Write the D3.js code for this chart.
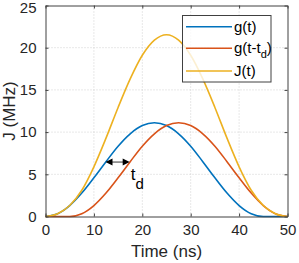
<!DOCTYPE html>
<html>
<head>
<meta charset="utf-8">
<script src="https://cdn.jsdelivr.net/npm/d3@7/dist/d3.min.js"></script>
<style>
  body { margin: 0; background: #fff; }
  svg { display: block; font-family: "Liberation Sans", Arial, sans-serif; }
</style>
</head>
<body>
<div id="chart"></div>
<script>
// time samples (ns)
var times = [0, 2.5, 5, 7.5, 10, 12.5, 15, 17.5, 20, 22.5, 25, 27.5, 30, 32.5, 35, 37.5, 40, 42.5, 45, 47.5, 50];
// g(t), MHz
var gVals = [0, 0.33, 1.30, 2.78, 4.59, 6.50, 8.33, 9.80, 10.77, 11.1, 10.77, 9.80, 8.33, 6.50, 4.59, 2.78, 1.30, 0.33, 0, 0, 0];
// g(t - td)
var gShiftVals = [0, 0, 0, 0.33, 1.30, 2.78, 4.59, 6.50, 8.33, 9.80, 10.77, 11.1, 10.77, 9.80, 8.33, 6.50, 4.59, 2.78, 1.30, 0.33, 0];
// J(t)
var jVals = [0, 0.33, 1.30, 3.11, 5.89, 9.28, 12.92, 16.30, 19.10, 20.90, 21.54, 20.90, 19.10, 16.30, 12.92, 9.28, 5.89, 3.11, 1.30, 0.33, 0];

var seriesNames = ['g(t)', 'g(t-t_d)', 'J(t)'];
var seriesColors = ['#0072BD', '#D95319', '#EDB120'];
var xTicks = [0, 10, 20, 30, 40, 50];
var yTicks = [0, 5, 10, 15, 20, 25];
// td arrow: from g(t) to g(t-td) at the same height
var tdArrow = [12.4, 17.4, 6.45];

(function(){
  'use strict';

  var width = 299, height = 263,
      margin = {top: 5.5, right: 11.5, bottom: 46.5, left: 45.5},
      w = width - margin.left - margin.right,
      h = height - margin.top - margin.bottom;

  var svg = d3.select('#chart').append('svg')
    .attr('width', width)
    .attr('height', height);

  var g = svg.append('g')
    .attr('transform', 'translate(' + margin.left + ',' + margin.top + ')');

  var x = d3.scaleLinear().domain([0, 50]).range([0, w]);
  var y = d3.scaleLinear().domain([0, 25]).range([h, 0]);

  //---- grid
  g.append('g').selectAll('line.gx')
    .data(xTicks.slice(1, -1)).enter()
    .append('line')
    .attr('x1', function(d){ return x(d); })
    .attr('x2', function(d){ return x(d); })
    .attr('y1', 0).attr('y2', h)
    .attr('stroke', '#d0d0d0').attr('stroke-dasharray', '1,2');
  g.append('g').selectAll('line.gy')
    .data(yTicks.slice(1, -1)).enter()
    .append('line')
    .attr('y1', function(d){ return y(d); })
    .attr('y2', function(d){ return y(d); })
    .attr('x1', 0).attr('x2', w)
    .attr('stroke', '#d0d0d0').attr('stroke-dasharray', '1,2');

  //---- curves
  var series = [gVals, gShiftVals, jVals];
  var line = d3.line()
    .x(function(d, i){ return x(times[i]); })
    .y(function(d){ return y(d); })
    .curve(d3.curveMonotoneX);

  g.selectAll('path.curve')
    .data(series).enter()
    .append('path')
    .attr('class', 'curve')
    .attr('fill', 'none')
    .attr('stroke', function(d, i){ return seriesColors[i]; })
    .attr('stroke-width', 1.6)
    .attr('d', line);

  //---- axes box with inward ticks
  var axisColor = '#404040';
  var xAxisB = d3.axisBottom(x).tickValues(xTicks).tickSizeInner(-3).tickSizeOuter(0).tickPadding(8);
  var xAxisT = d3.axisTop(x).tickValues(xTicks).tickSizeInner(-3).tickSizeOuter(0).tickFormat('');
  var yAxisL = d3.axisLeft(y).tickValues(yTicks).tickSizeInner(-3).tickSizeOuter(0).tickPadding(9);
  var yAxisR = d3.axisRight(y).tickValues(yTicks).tickSizeInner(-3).tickSizeOuter(0).tickFormat('');

  var axes = [
    g.append('g').attr('transform', 'translate(0,' + h + ')').call(xAxisB),
    g.append('g').call(xAxisT),
    g.append('g').call(yAxisL),
    g.append('g').attr('transform', 'translate(' + w + ',0)').call(yAxisR)
  ];
  axes.forEach(function(a){
    a.select('.domain').attr('stroke', axisColor);
    a.selectAll('.tick line').attr('stroke', axisColor);
    a.selectAll('.tick text').attr('fill', '#262626').style('font-size', '15px')
      .style('font-family', '"Liberation Sans", Arial, sans-serif');
  });
  // keep the top y label inside the picture, as in the reference
  axes[2].selectAll('.tick text').filter(function(d){ return d === 25; }).attr('dy', '0.45em');

  //---- axis labels
  svg.append('text')
    .attr('x', margin.left + w / 2)
    .attr('y', 256.5)
    .attr('text-anchor', 'middle')
    .attr('fill', '#262626')
    .style('font-size', '17px')
    .text('Time (ns)');

  svg.append('text')
    .attr('transform', 'translate(14.5,' + (margin.top + h / 2) + ') rotate(-90)')
    .attr('text-anchor', 'middle')
    .attr('fill', '#262626')
    .style('font-size', '17px')
    .text('J (MHz)');

  //---- td arrow
  var ay = y(tdArrow[2]), ax0 = x(tdArrow[0]), ax1 = x(tdArrow[1]);
  g.append('line')
    .attr('x1', ax0 + 5).attr('x2', ax1 - 5)
    .attr('y1', ay).attr('y2', ay)
    .attr('stroke', '#000').attr('stroke-width', 0.8);
  g.append('path')
    .attr('d', 'M' + ax0 + ',' + ay + 'L' + (ax0 + 7) + ',' + (ay - 3.5) + 'L' + (ax0 + 7) + ',' + (ay + 3.5) + 'Z')
    .attr('fill', '#000');
  g.append('path')
    .attr('d', 'M' + ax1 + ',' + ay + 'L' + (ax1 - 7) + ',' + (ay - 3.5) + 'L' + (ax1 - 7) + ',' + (ay + 3.5) + 'Z')
    .attr('fill', '#000');

  var tdText = g.append('text')
    .attr('x', ax1 + 1)
    .attr('y', ay + 18)
    .attr('fill', '#000')
    .style('font-size', '17px');
  tdText.append('tspan').text('t');
  tdText.append('tspan').attr('dy', 9).style('font-size', '15px').text('d');

  //---- legend
  var lx = 182.5, ly = 15.5, lw = 88.5, lh = 66.5;
  var legend = svg.append('g');
  legend.append('rect')
    .attr('x', lx).attr('y', ly)
    .attr('width', lw).attr('height', lh)
    .attr('fill', '#fff').attr('fill-opacity', 0.8)
    .attr('stroke', axisColor).attr('stroke-width', 1);

  var rows = [26.7, 48.3, 71];
  seriesNames.forEach(function(name, i){
    legend.append('line')
      .attr('x1', 186).attr('x2', 232)
      .attr('y1', rows[i]).attr('y2', rows[i])
      .attr('stroke', seriesColors[i]).attr('stroke-width', 1.6);
    var t = legend.append('text')
      .attr('x', 234).attr('y', rows[i] + 5)
      .attr('fill', '#000')
      .style('font-size', '15px');
    var parts = name.split('_');
    if (parts.length > 1) {
      t.append('tspan').text(parts[0]);
      t.append('tspan').attr('dy', 5).style('font-size', '11px').text(parts[1].charAt(0));
      t.append('tspan').attr('dy', -5).text(parts[1].slice(1));
    } else {
      t.text(name);
    }
  });
})();
</script>
</body>
</html>
